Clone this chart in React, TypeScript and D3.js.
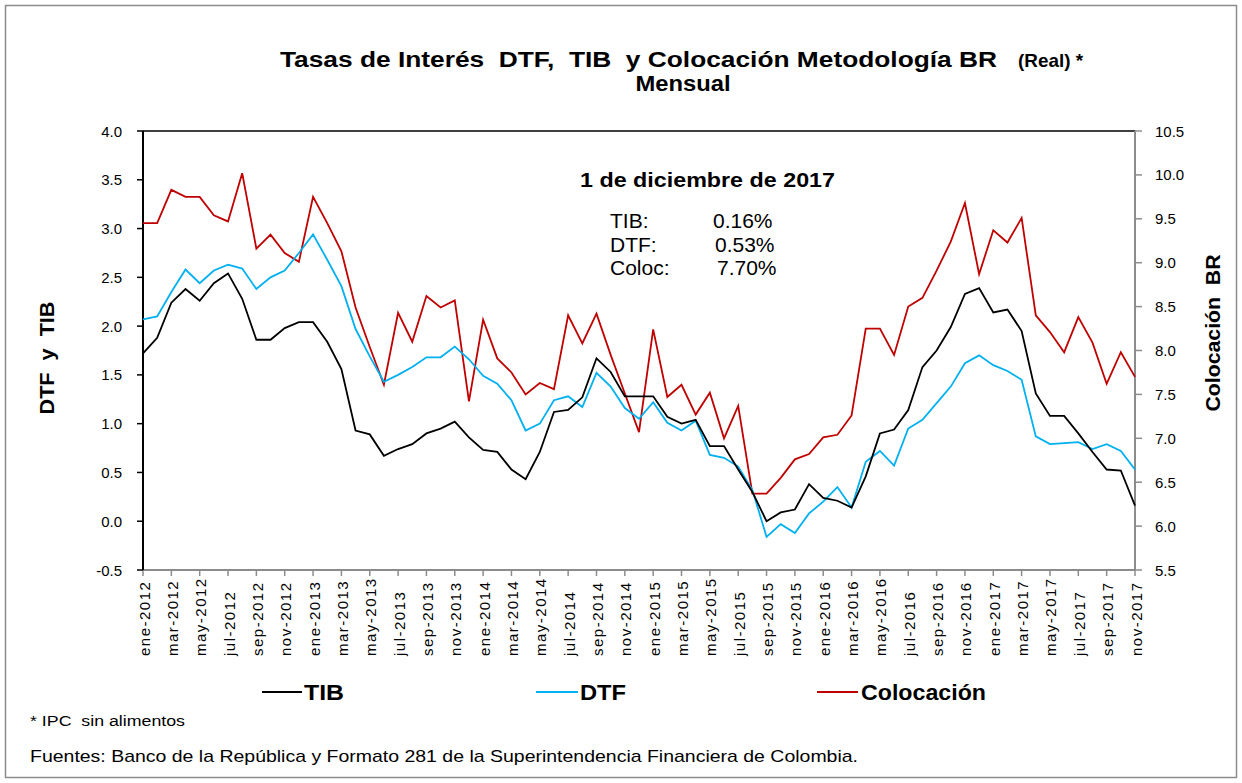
import React from 'react';
import * as d3 from 'd3';

// Monthly values ene-2012 .. nov-2017
const MONTHS = ['ene', 'feb', 'mar', 'abr', 'may', 'jun', 'jul', 'ago', 'sep', 'oct', 'nov', 'dic'];
const YEARS = [2012, 2013, 2014, 2015, 2016, 2017];

const tib = [
    1.72, 1.88, 2.24, 2.38, 2.26, 2.44, 2.54, 2.28, 1.86, 1.86, 1.98, 2.04,
    2.04, 1.84, 1.56, 0.93, 0.89, 0.67, 0.74, 0.79, 0.90, 0.95, 1.02, 0.86,
    0.73, 0.71, 0.53, 0.43, 0.71, 1.12, 1.14, 1.27, 1.67, 1.53, 1.28, 1.28,
    1.28, 1.07, 1.00, 1.04, 0.77, 0.77, 0.53, 0.30, 0.00, 0.09, 0.12, 0.38,
    0.24, 0.21, 0.14, 0.46, 0.90, 0.94, 1.14, 1.58, 1.75, 1.99, 2.33, 2.39,
    2.14, 2.17, 1.95, 1.31, 1.08, 1.08, 0.90, 0.71, 0.53, 0.52, 0.16,
];

const dtf = [
    2.07, 2.10, 2.35, 2.58, 2.44, 2.57, 2.63, 2.59, 2.38, 2.50, 2.57, 2.75,
    2.94, 2.68, 2.41, 1.97, 1.69, 1.43, 1.50, 1.58, 1.68, 1.68, 1.79, 1.66,
    1.49, 1.41, 1.24, 0.93, 1.00, 1.24, 1.28, 1.17, 1.52, 1.38, 1.16, 1.05,
    1.22, 1.01, 0.93, 1.03, 0.68, 0.65, 0.56, 0.32, -0.16, -0.03, -0.12, 0.08,
    0.20, 0.35, 0.14, 0.61, 0.72, 0.57, 0.95, 1.04, 1.21, 1.38, 1.62, 1.70,
    1.60, 1.54, 1.45, 0.87, 0.79, 0.80, 0.81, 0.74, 0.79, 0.72, 0.53,
];

const colocacion = [
    9.45, 9.45, 9.83, 9.75, 9.75, 9.54, 9.47, 10.02, 9.16, 9.32, 9.11, 9.01,
    9.75, 9.45, 9.13, 8.49, 8.04, 7.61, 8.43, 8.10, 8.62, 8.49, 8.57, 7.42,
    8.35, 7.91, 7.75, 7.50, 7.63, 7.56, 8.40, 8.08, 8.42, 7.95, 7.51, 7.07,
    8.24, 7.47, 7.61, 7.27, 7.52, 7.00, 7.37, 6.37, 6.37, 6.55, 6.76, 6.82,
    7.01, 7.04, 7.26, 8.25, 8.25, 7.95, 8.50, 8.60, 8.91, 9.24, 9.68, 8.87,
    9.37, 9.23, 9.51, 8.40, 8.21, 7.98, 8.38, 8.09, 7.62, 7.98, 7.70,
];

const categories = YEARS.flatMap((y) => MONTHS.map((m) => `${m}-${y}`)).slice(0, tib.length);

const leftTicks = [-0.5, 0, 0.5, 1, 1.5, 2, 2.5, 3, 3.5, 4];
const rightTicks = [5.5, 6, 6.5, 7, 7.5, 8, 8.5, 9, 9.5, 10, 10.5];

const COLORS = { tib: '#000000', dtf: '#00B0F0', coloc: '#C00000' };
const FONT = "'Liberation Sans', Arial, sans-serif";
const NARROW = "'Liberation Sans Narrow', 'Liberation Sans', Arial, sans-serif";

const W = 1242;
const H = 783;
const PL = 143, PR = 1135, PT = 131, PB = 570;

export default function App() {
    const x = d3.scalePoint<string>().domain(categories).range([PL, PR]).padding(0);
    const yL = d3.scaleLinear().domain([-0.5, 4]).range([PB, PT]);
    const yR = d3.scaleLinear().domain([5.5, 10.5]).range([PB, PT]);

    const lineL = d3.line<number>().x((_, i) => x(categories[i])!).y((d) => yL(d));
    const lineR = d3.line<number>().x((_, i) => x(categories[i])!).y((d) => yR(d));

    const labelled = categories.filter((_, i) => i % 2 === 0);

    return (
        <svg
            width={W}
            height={H}
            viewBox={`0 0 ${W} ${H}`}
            style={{ position: 'absolute', left: 0, top: 0, background: '#fff' }}
            fontFamily={FONT}
        >
            <rect x={5.5} y={5.5} width={1231} height={772} fill="#fff" stroke="#8c8c8c" strokeWidth={1.5} />

            {/* title */}
            <text x={280} y={67} fontFamily={NARROW} fontWeight={700} fontSize={22}
                textLength={717} lengthAdjust="spacingAndGlyphs" style={{ whiteSpace: 'pre' }}>
                Tasas de Interés  DTF,  TIB  y Colocación Metodología BR
            </text>
            <text x={1018} y={67} fontFamily={NARROW} fontWeight={700} fontSize={19}
                textLength={65} lengthAdjust="spacingAndGlyphs" style={{ whiteSpace: 'pre' }}>
                (Real) *
            </text>
            <text x={683} y={91} textAnchor="middle" fontFamily={NARROW} fontWeight={700} fontSize={22}
                textLength={95} lengthAdjust="spacingAndGlyphs">
                Mensual
            </text>

            {/* plot frame */}
            <line x1={PL} x2={PR} y1={PT} y2={PT} stroke="#000" strokeWidth={1.5} />
            <line x1={PL} x2={PR} y1={PB} y2={PB} stroke="#8c8c8c" strokeWidth={2} />
            <line x1={PR} x2={PR} y1={PT} y2={PB} stroke="#8c8c8c" strokeWidth={2} />

            {/* x ticks and labels */}
            {labelled.map((c) => (
                <g key={c}>
                    <line x1={x(c)} x2={x(c)} y1={PB} y2={PB + 6} stroke="#8c8c8c" strokeWidth={1.5} />
                    <text
                        transform={`translate(${x(c)! + 1},656) rotate(-90)`}
                        dominantBaseline="central"
                        fontSize={15}
                        letterSpacing={1.5}
                        fill="#000"
                    >
                        {c}
                    </text>
                </g>
            ))}

            {/* left axis */}
            <line x1={PL} x2={PL} y1={PT} y2={PB} stroke="#000" strokeWidth={2} />
            {leftTicks.map((t) => (
                <g key={t}>
                    <line x1={PL - 6} x2={PL} y1={yL(t)} y2={yL(t)} stroke="#000" strokeWidth={1.5} />
                    <text x={122} y={yL(t)} textAnchor="end" dominantBaseline="central" fontSize={15}>
                        {t.toFixed(1)}
                    </text>
                </g>
            ))}
            <text transform="translate(47,358) rotate(-90)" textAnchor="middle" dominantBaseline="central"
                fontWeight={700} fontSize={20} textLength={113} lengthAdjust="spacingAndGlyphs"
                style={{ whiteSpace: 'pre' }}>
                DTF  y  TIB
            </text>

            {/* right axis */}
            {rightTicks.map((t) => (
                <g key={t}>
                    <line x1={PR} x2={PR + 7} y1={yR(t)} y2={yR(t)} stroke="#8c8c8c" strokeWidth={1.5} />
                    <text x={1155} y={yR(t)} dominantBaseline="central" fontSize={15}>
                        {t.toFixed(1)}
                    </text>
                </g>
            ))}
            <text transform="translate(1213,333) rotate(-90)" textAnchor="middle" dominantBaseline="central"
                fontWeight={700} fontSize={20} textLength={157} lengthAdjust="spacingAndGlyphs"
                style={{ whiteSpace: 'pre' }}>
                Colocación  BR
            </text>

            {/* series */}
            <path d={lineR(colocacion)!} fill="none" stroke={COLORS.coloc} strokeWidth={1.8} strokeLinejoin="miter" />
            <path d={lineL(dtf)!} fill="none" stroke={COLORS.dtf} strokeWidth={1.8} />
            <path d={lineL(tib)!} fill="none" stroke={COLORS.tib} strokeWidth={1.8} />

            {/* annotation */}
            <text x={580} y={187} fontWeight={700} fontSize={20} textLength={255} lengthAdjust="spacingAndGlyphs">
                1 de diciembre de 2017
            </text>
            <g fontSize={21}>
                <text x={610} y={228}>TIB:</text>
                <text x={713} y={228}>0.16%</text>
                <text x={610} y={252}>DTF:</text>
                <text x={715} y={252}>0.53%</text>
                <text x={610} y={275}>Coloc:</text>
                <text x={717} y={275}>7.70%</text>
            </g>

            {/* legend */}
            <g fontFamily={NARROW} fontWeight={700} fontSize={22}>
                <line x1={262} x2={302} y1={692} y2={692} stroke={COLORS.tib} strokeWidth={2} />
                <text x={304} y={700} textLength={40} lengthAdjust="spacingAndGlyphs">TIB</text>
                <line x1={536} x2={578} y1={692} y2={692} stroke={COLORS.dtf} strokeWidth={2} />
                <text x={580} y={700} textLength={46} lengthAdjust="spacingAndGlyphs">DTF</text>
                <line x1={817} x2={858} y1={692} y2={692} stroke={COLORS.coloc} strokeWidth={2} />
                <text x={861} y={700} textLength={125} lengthAdjust="spacingAndGlyphs">Colocación</text>
            </g>

            {/* notes */}
            <text x={30} y={726} fontFamily={NARROW} fontSize={14} textLength={155} lengthAdjust="spacingAndGlyphs"
                style={{ whiteSpace: 'pre' }}>
                * IPC  sin alimentos
            </text>
            <text x={30} y={762} fontFamily={NARROW} fontSize={17} textLength={828} lengthAdjust="spacingAndGlyphs">
                Fuentes: Banco de la República y Formato 281 de la Superintendencia Financiera de Colombia.
            </text>
        </svg>
    );
}
